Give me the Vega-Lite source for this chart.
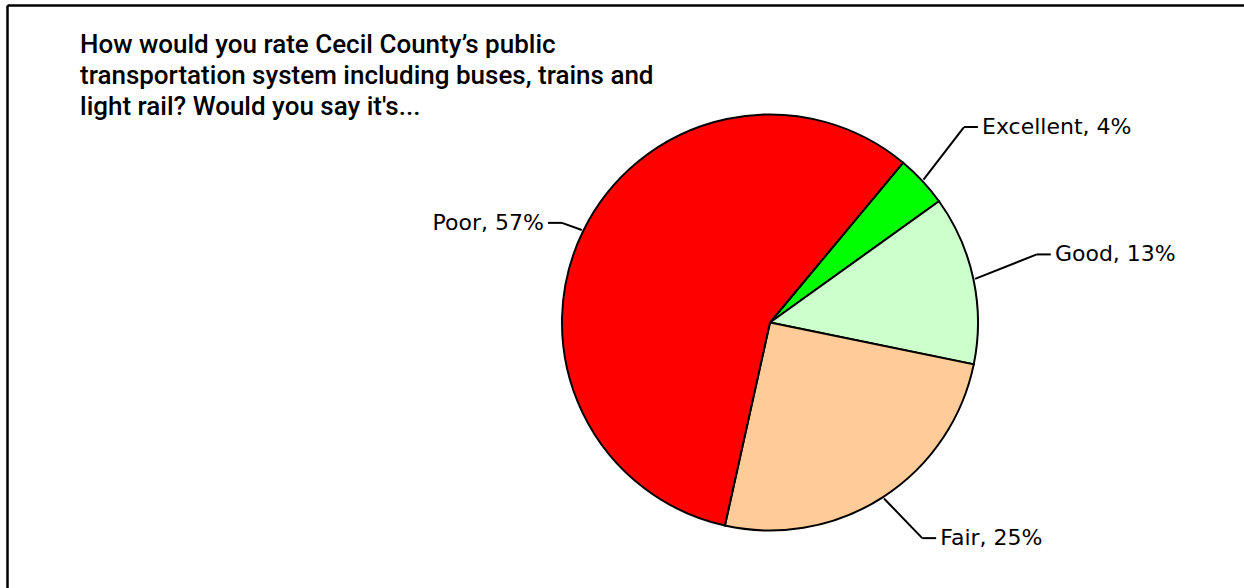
{
  "$schema": "https://vega.github.io/schema/vega-lite/v6.json",
  "width": 1237,
  "height": 583,
  "autosize": {"type": "none"},
  "padding": {"left": 7, "top": 5, "right": 0, "bottom": 0},
  "background": "white",
  "title": {
    "text": ["How would you rate Cecil County’s public", "transportation system including buses, trains and", "light rail? Would you say it's..."],
    "anchor": "start",
    "frame": "group",
    "orient": "top",
    "offset": 0,
    "dx": 73,
    "dy": 115,
    "baseline": "top",
    "lineHeight": 31,
    "font": "Roboto",
    "fontWeight": 500,
    "fontSize": 26,
    "color": "black"
  },
  "data": {
    "values": [
      {"rating": "Excellent", "pct": 4, "order": 1},
      {"rating": "Good", "pct": 13, "order": 2},
      {"rating": "Fair", "pct": 25, "order": 3},
      {"rating": "Poor", "pct": 57, "order": 4}
    ]
  },
  "transform": [
    {"joinaggregate": [{"op": "sum", "field": "pct", "as": "total"}]},
    {"window": [{"op": "sum", "field": "pct", "as": "cum"}], "sort": [{"field": "order"}], "frame": [null, 0]},
    {"calculate": "0.6946 + 2*PI*(datum.cum - datum.pct/2)/datum.total", "as": "mid"},
    {"calculate": "datum.rating == 'Poor' ? 1.109 : datum.rating == 'Fair' ? 1.269 : 1.324", "as": "kr"},
    {"calculate": "datum.mid - (datum.rating == 'Poor' ? 0.01 : 0.04)", "as": "ka"},
    {"calculate": "1.008*sin(datum.mid)", "as": "ex"},
    {"calculate": "1.008*cos(datum.mid)", "as": "ey"},
    {"calculate": "datum.kr*sin(datum.ka)", "as": "kx"},
    {"calculate": "datum.kr*cos(datum.ka)", "as": "ky"},
    {"calculate": "sin(datum.mid) >= 0 ? 1 : -1", "as": "side"},
    {"calculate": "datum.kx + datum.side*0.067", "as": "hx"},
    {"calculate": "datum.kx + datum.side*0.087", "as": "tx"},
    {"calculate": "datum.rating + ', ' + datum.pct + '%'", "as": "label"}
  ],
  "layer": [
    {
      "mark": {"type": "arc", "outerRadius": 208, "stroke": "black", "strokeWidth": 2},
      "encoding": {
        "x": {"datum": 0, "type": "quantitative", "scale": {"domain": [-3.66827, 2.27885], "nice": false, "zero": false}, "axis": {"orient": "top", "title": null}},
        "y": {"datum": 0, "type": "quantitative", "scale": {"domain": [-1.27644, 1.52644], "nice": false, "zero": false}, "axis": {"orient": "left", "title": null}},
        "theta": {"field": "pct", "type": "quantitative", "stack": true, "scale": {"range": [0.6946, 6.9778]}},
        "order": {"field": "order", "type": "quantitative"},
        "color": {"field": "rating", "type": "nominal", "scale": {"domain": ["Excellent", "Good", "Fair", "Poor"], "range": ["#00FF00", "#CCFFCC", "#FFCC99", "#FF0000"]}, "legend": null}
      }
    },
    {
      "mark": {"type": "rule", "color": "black", "strokeWidth": 2},
      "encoding": {
        "x": {"field": "ex", "type": "quantitative", "axis": {"orient": "top", "title": null}},
        "y": {"field": "ey", "type": "quantitative", "axis": {"orient": "left", "title": null}},
        "x2": {"field": "kx"},
        "y2": {"field": "ky"}
      }
    },
    {
      "mark": {"type": "rule", "color": "black", "strokeWidth": 2},
      "encoding": {
        "x": {"field": "kx", "type": "quantitative", "axis": {"orient": "top", "title": null}},
        "y": {"field": "ky", "type": "quantitative", "axis": {"orient": "left", "title": null}},
        "x2": {"field": "hx"},
        "y2": {"field": "ky"}
      }
    },
    {
      "transform": [{"filter": "datum.side > 0"}],
      "mark": {"type": "text", "align": "left", "baseline": "middle", "font": "DejaVu Sans", "fontSize": 22, "color": "black"},
      "encoding": {
        "x": {"field": "tx", "type": "quantitative", "axis": {"orient": "top", "title": null}},
        "y": {"field": "ky", "type": "quantitative", "axis": {"orient": "left", "title": null}},
        "text": {"field": "label"}
      }
    },
    {
      "transform": [{"filter": "datum.side < 0"}],
      "mark": {"type": "text", "align": "right", "baseline": "middle", "font": "DejaVu Sans", "fontSize": 22, "color": "black"},
      "encoding": {
        "x": {"field": "tx", "type": "quantitative", "axis": {"orient": "top", "title": null}},
        "y": {"field": "ky", "type": "quantitative", "axis": {"orient": "left", "title": null}},
        "text": {"field": "label"}
      }
    }
  ],
  "config": {
    "view": {"stroke": null},
    "axis": {"labels": false, "ticks": false, "grid": false, "domain": true, "domainColor": "black", "domainWidth": 2.5, "offset": 0}
  }
}
